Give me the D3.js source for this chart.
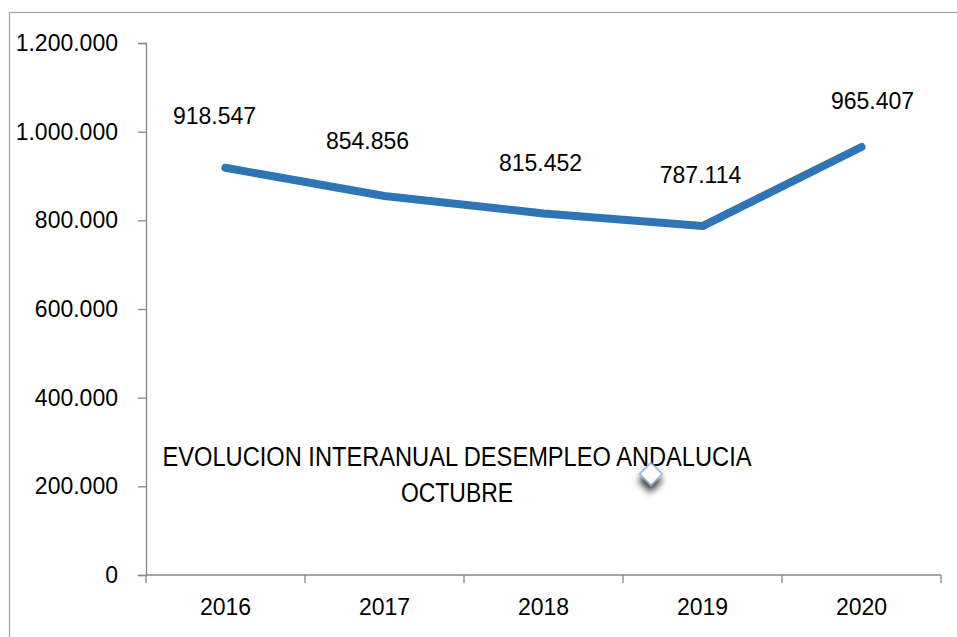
<!DOCTYPE html>
<html>
<head>
<meta charset="utf-8">
<script src="https://cdn.jsdelivr.net/npm/d3@7"></script>
<style>
  body { margin: 0; background: #fff; }
  text { font-family: "Liberation Sans", Arial, sans-serif; fill: #000; }
</style>
</head>
<body>
<svg id="chart" width="957" height="637"></svg>
<script>
// data
const years = ["2016", "2017", "2018", "2019", "2020"];
const parados = [918547, 854856, 815452, 787114, 965407];
const yTicks = [0, 200000, 400000, 600000, 800000, 1000000, 1200000];
const titleLines = ["EVOLUCION INTERANUAL DESEMPLEO ANDALUCIA", "OCTUBRE"];

// label nudges (labels were dragged a bit in the original)
const labelDx = [-11, -17, -3, -2, 11];
const labelDy = [-52, -55, -51, -51, -46];

const svg = d3.select("#chart");
const fmt = v => d3.format(",")(v).replace(/,/g, ".");

const plotL = 146, plotR = 941, plotT = 43, plotB = 575;

// outer chart border (runs off canvas right/bottom)
svg.append("rect")
    .attr("x", 9.5).attr("y", 12.5)
    .attr("width", 1000).attr("height", 700)
    .attr("fill", "none")
    .attr("stroke", "#a6a6a6")
    .attr("stroke-width", 1.3);

const x = d3.scaleBand().domain(years).range([plotL, plotR]);
const y = d3.scaleLinear().domain([0, 1200000]).range([plotB, plotT]);

// y axis
const yAxis = svg.append("g")
    .attr("transform", `translate(${plotL},0)`)
    .call(d3.axisLeft(y).tickValues(yTicks).tickFormat(fmt).tickSize(8).tickPadding(20));
yAxis.select(".domain").attr("stroke", "#868686").attr("stroke-width", 1.3);
yAxis.selectAll(".tick line").attr("stroke", "#868686").attr("stroke-width", 1.3);
yAxis.selectAll(".tick text").style("font-size", "23px").attr("fill", "#000");

// x axis: ticks at category boundaries
svg.append("line")
    .attr("x1", plotL).attr("x2", plotR)
    .attr("y1", plotB).attr("y2", plotB)
    .attr("stroke", "#868686").attr("stroke-width", 1.3);
const bounds = years.map(d => x(d)).concat([x.range()[1]]);
svg.selectAll(".xtick").data(bounds).join("line")
    .attr("class", "xtick")
    .attr("x1", d => d).attr("x2", d => d)
    .attr("y1", plotB).attr("y2", plotB + 8)
    .attr("stroke", "#868686").attr("stroke-width", 1.3);
svg.selectAll(".xlab").data(years).join("text")
    .attr("class", "xlab")
    .attr("x", d => x(d) + x.bandwidth() / 2)
    .attr("y", 607)
    .attr("dy", "0.35em")
    .attr("text-anchor", "middle")
    .style("font-size", "23px")
    .text(d => d);

// line
const pts = years.map((d, i) => [x(d) + x.bandwidth() / 2, y(parados[i])]);
svg.append("path")
    .attr("d", d3.line()(pts))
    .attr("fill", "none")
    .attr("stroke", "#2e75b6")
    .attr("stroke-width", 8)
    .attr("stroke-linecap", "round")
    .attr("stroke-linejoin", "round");

// data labels
svg.selectAll(".dlab").data(parados).join("text")
    .attr("class", "dlab")
    .attr("x", (d, i) => pts[i][0] + labelDx[i])
    .attr("y", (d, i) => pts[i][1] + labelDy[i])
    .attr("dy", "0.35em")
    .attr("text-anchor", "middle")
    .style("font-size", "23px")
    .text(d => fmt(d));

// title inside the plot
svg.selectAll(".title").data(titleLines).join("text")
    .attr("class", "title")
    .attr("x", 457)
    .attr("y", (d, i) => 457 + i * 36)
    .attr("dy", "0.35em")
    .attr("text-anchor", "middle")
    .style("font-size", "27px")
    .attr("textLength", (d, i) => i === 0 ? 589 : 112)
    .attr("lengthAdjust", "spacingAndGlyphs")
    .text(d => d);

// little selection handle with a shadow
const defs = svg.append("defs");
const f = defs.append("filter").attr("id", "shadow").attr("x", "-100%").attr("y", "-100%")
    .attr("width", "300%").attr("height", "300%");
f.append("feDropShadow").attr("dx", 4).attr("dy", 5).attr("stdDeviation", 3.5)
    .attr("flood-color", "#000").attr("flood-opacity", 0.8);
svg.append("rect")
    .attr("x", -8).attr("y", -8)
    .attr("width", 16).attr("height", 16)
    .attr("transform", "translate(651,474) rotate(45)")
    .attr("fill", "#fff")
    .attr("stroke", "#7da2d6")
    .attr("stroke-width", 1.3)
    .attr("filter", "url(#shadow)");
</script>
</body>
</html>
